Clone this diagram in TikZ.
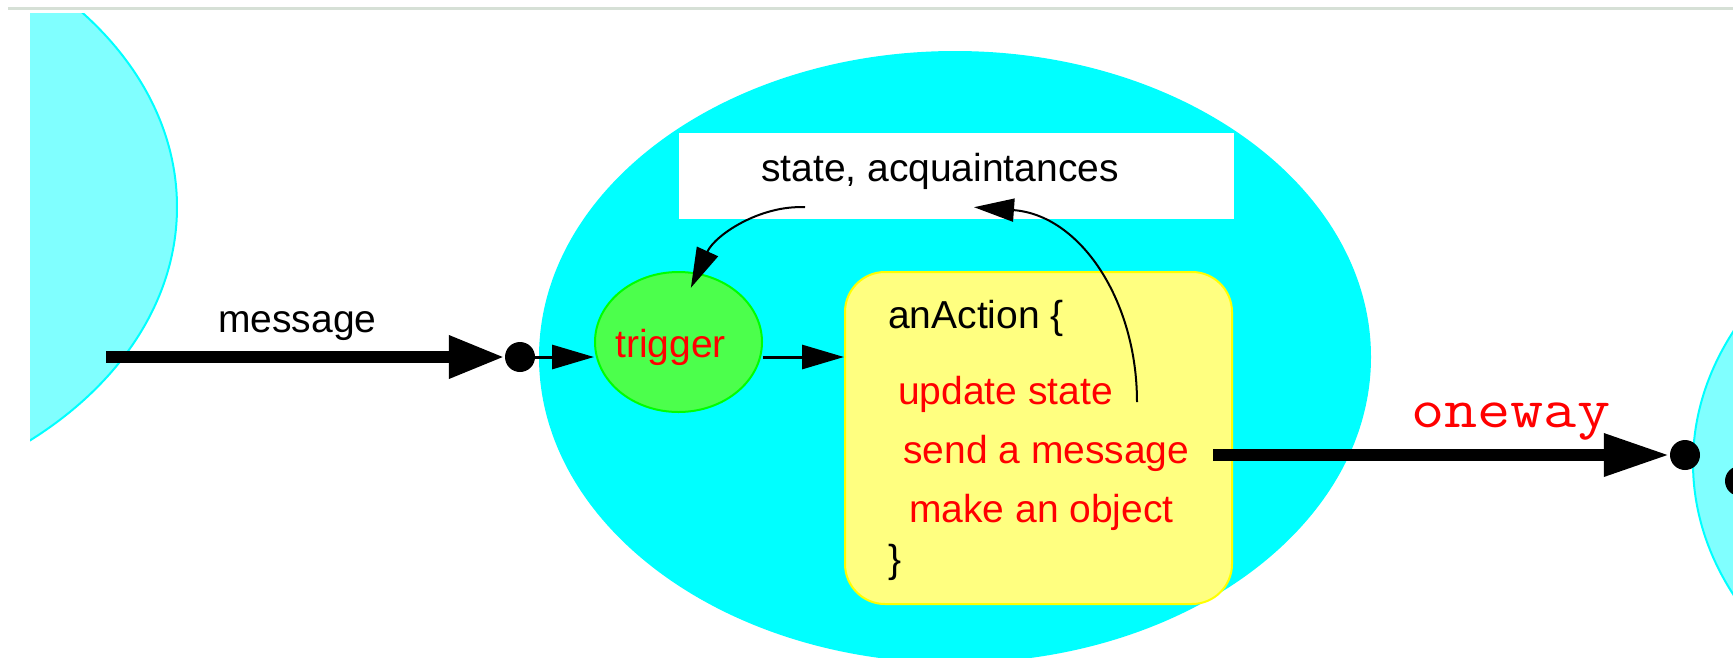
\documentclass[tikz,border=0pt]{standalone}
\usepackage{fontspec}
\usepackage{graphicx}
\setmainfont{Liberation Sans}
\usetikzlibrary{arrows.meta,shapes.geometric}
\definecolor{lcyan}{HTML}{80FFFF}
\definecolor{cyanb}{HTML}{00FFFF}
\definecolor{trgreen}{HTML}{4CFF4C}
\definecolor{grn}{HTML}{00FF00}
\definecolor{ylw}{HTML}{FFFF80}
\definecolor{ylwb}{HTML}{FFFF00}
\definecolor{topline}{HTML}{D6E0D6}
\begin{document}
\begin{tikzpicture}[x=1pt,y=-1pt,
  txt/.style={inner sep=0pt, anchor=base west, font=\fontsize{39pt}{47pt}\selectfont},
  redtxt/.style={txt, text=red},
  objside/.style={fill=lcyan, draw=cyanb, line width=2pt},
  dot/.style={circle, fill=black, minimum size=30pt, inner sep=0pt},
  msgarrow/.style={line width=12.5pt, -{Triangle[length=56pt,width=40pt]}},
  onewayarrow/.style={line width=12.5pt, -{Triangle[length=66pt,width=40pt]}},
  smallarrow/.style={line width=3pt, -{Triangle[length=42pt,width=24pt]}},
  curvearrow/.style={line width=2pt, -{Triangle[length=40pt,width=23pt]}}
]
\useasboundingbox (0,0) rectangle (1733,657);
\fill[white] (0,0) rectangle (1733,657);
\draw[topline, line width=3pt] (8,8) -- (1733,8);
% left object
\begin{scope}
  \clip (30,13) rectangle (1733,657);
  \filldraw[objside] (-239,207) ellipse [x radius=416, y radius=306];
\end{scope}
% middle object
\fill[cyanb] (955,357) ellipse [x radius=416, y radius=306];
% right object
\begin{scope}
  \clip (0,0) rectangle (1733,657);
  \filldraw[objside] (2109,463) ellipse [x radius=416, y radius=306];
  \node[dot] (d3) at (1740,481) {};
\end{scope}
% nodes
\node[fill=white, minimum width=555pt, minimum height=86pt, inner sep=0pt] (st) at (956.5,176) {};
\node[ellipse, fill=trgreen, draw=grn, line width=2pt, minimum width=167pt, minimum height=140pt, inner sep=0pt] (trig) at (678.5,342) {};
\node[rectangle, rounded corners=40pt, fill=ylw, draw=ylwb, line width=2pt, minimum width=387pt, minimum height=332pt, inner sep=0pt] (act) at (1038.5,438) {};
\node[dot] (d1) at (520,357) {};
\node[dot] (d2) at (1685,455) {};
\coordinate (m0) at (106,357);
% texts
\node[txt] (tmsg) at (218,332) {message};
\node[txt] (tst) at (761,181) {state, acquaintances};
\node[txt] (tact) at (888,328) {anAction \{};
\node[redtxt] (tu) at (898,404) {update state};
\node[redtxt] (ts) at (903,463) {send a message};
\node[redtxt] (tm) at (909,522) {make an object};
\node[txt] (tb) at (888,572) {\}};
\node[redtxt] (ttr) at (615,357) {trigger};
\node[inner sep=0pt, anchor=base west, text=red, font=\ttfamily\fontsize{56pt}{60pt}\selectfont] (tow) at (1411,427) {\scalebox{1.15}[1]{oneway}};
% connectors
\draw[msgarrow] (m0) -- (d1);
\draw[smallarrow] (d1.east) -- (d1.east -| trig.west);
\draw[smallarrow] (trig.east |- d1) -- (act.west |- d1);
\draw[onewayarrow] ([xshift=-20pt,yshift=-17pt]act.east) -- (d2);
\draw[curvearrow] ([xshift=-151.5pt,yshift=12pt]st.south) .. controls (760,205) and (715,235) .. ([yshift=-16pt]trig.80);
\draw[curvearrow] ([xshift=98.5pt,yshift=36pt]act.center) .. controls (1137,300) and (1080,215) .. ([xshift=17.5pt,yshift=12pt]st.south);
\end{tikzpicture}
\end{document}
